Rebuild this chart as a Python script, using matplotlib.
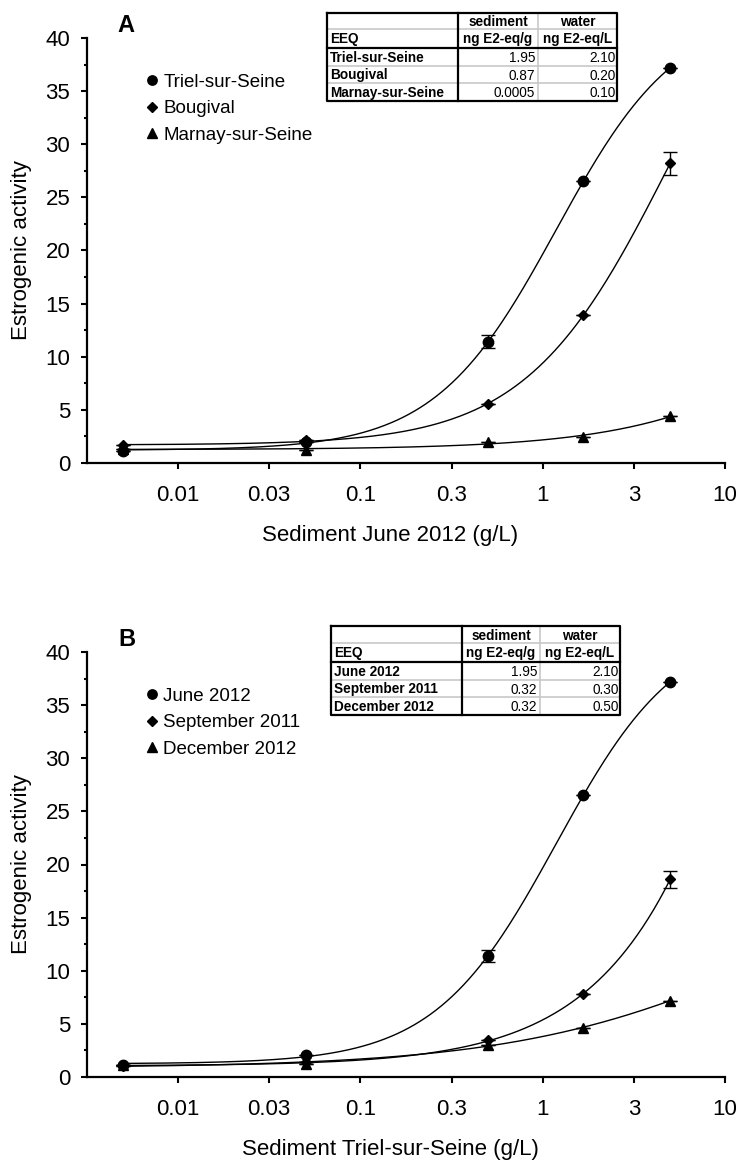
import numpy as np
import matplotlib
matplotlib.use("Agg")
import matplotlib.pyplot as plt
from matplotlib.lines import Line2D
from matplotlib.ticker import FixedLocator, NullLocator, MultipleLocator

plt.rcParams["font.family"] = ["Liberation Sans", "DejaVu Sans"]

# ---- data ----
conc = [0.005, 0.05, 0.5, 1.67, 5.0]

# panel A: sites, sediment June 2012
triel = [1.1, 2.0, 11.4, 26.5, 37.2]
triel_err = [0, 0, 0.6, 0, 0]
bougival = [1.65, 2.15, 5.55, 13.9, 28.2]
bougival_err = [0, 0, 0, 0, 1.1]
marnay = [1.3, 1.25, 2.0, 2.45, 4.4]
marnay_err = [0, 0, 0, 0, 0]

# panel B: Triel-sur-Seine, sampling dates
june = [1.15, 2.05, 11.4, 26.5, 37.2]
june_err = [0, 0, 0.6, 0, 0]
sept = [1.0, 1.4, 3.45, 7.8, 18.6]
sept_err = [0, 0, 0, 0, 0.8]
dec = [1.1, 1.25, 3.05, 4.6, 7.2]
dec_err = [0, 0, 0, 0, 0]

labels_a = ["Triel-sur-Seine", "Bougival", "Marnay-sur-Seine"]
labels_b = ["June 2012", "September 2011", "December 2012"]

# EEQ tables
table_a_rows = ["Triel-sur-Seine", "Bougival", "Marnay-sur-Seine"]
table_a_sed = ["1.95", "0.87", "0.0005"]
table_a_wat = ["2.10", "0.20", "0.10"]
table_b_rows = ["June 2012", "September 2011", "December 2012"]
table_b_sed = ["1.95", "0.32", "0.32"]
table_b_wat = ["2.10", "0.30", "0.50"]

xtick_vals = [0.01, 0.0316, 0.1, 0.316, 1, 3.16, 10]
xtick_labels = ["0.01", "0.03", "0.1", "0.3", "1", "3", "10"]

W, H = 739, 1165
fig = plt.figure(figsize=(W / 100, H / 100), dpi=100)


def fx(px):
    return px / W


def fy(py):
    return 1 - py / H


def hill_fit(x, y):
    # 4-parameter logistic in log10(x); bottom/top solved linearly for each (ec50, slope)
    lx = np.log10(np.asarray(x))
    y = np.asarray(y, dtype=float)
    best = (np.inf, None)
    for n in np.linspace(0.3, 4.0, 75):
        for le in np.linspace(-2.5, 2.0, 181):
            f = 1.0 / (1.0 + 10 ** ((le - lx) * n))
            A = np.column_stack([1 - f, f])
            coef = np.linalg.lstsq(A, y, rcond=None)[0]
            sse = np.sum((A @ coef - y) ** 2)
            if sse < best[0]:
                best = (sse, (coef[0], coef[1], le, n))
    return best[1]


def hill_curve(params, xs):
    b, t, le, n = params
    return b + (t - b) / (1.0 + 10 ** ((le - np.log10(xs)) * n))


markers = ["o", "D", "^"]
msizes = [7.5, 5.5, 7.5]


def draw_panel(ax, series, errs, labels, xlabel, xlabel_x):
    xs = np.logspace(np.log10(conc[0]), np.log10(conc[-1]), 300)
    handles = []
    for y, e, m, ms, lab in zip(series, errs, markers, msizes, labels):
        p = hill_fit(conc, y)
        ax.plot(xs, hill_curve(p, xs), color="black", lw=1.0, zorder=2)
        ax.errorbar(conc, y, yerr=e, fmt=m, ms=ms, color="black", ecolor="black",
                    elinewidth=1.0, capsize=5, capthick=1.0, zorder=3)
        handles.append(Line2D([], [], ls="none", marker=m, ms=ms * 0.9, color="black"))

    ax.set_xscale("log")
    ax.set_xlim(10 ** -2.5, 10)
    ax.set_ylim(0, 40)
    ax.xaxis.set_major_locator(FixedLocator(xtick_vals))
    ax.xaxis.set_minor_locator(NullLocator())
    ax.set_xticklabels(xtick_labels)
    ax.yaxis.set_major_locator(MultipleLocator(5))
    ax.yaxis.set_minor_locator(MultipleLocator(2.5))
    for s in ["top", "right"]:
        ax.spines[s].set_visible(False)
    for s in ["left", "bottom"]:
        ax.spines[s].set_linewidth(1.6)
    ax.tick_params(which="major", direction="out", length=4, width=1.5, labelsize=16, pad=8)
    ax.tick_params(which="minor", direction="out", length=2.5, width=1.5)
    ax.tick_params(axis="x", pad=12)
    ax.set_ylabel("Estrogenic activity", fontsize=16)
    ax.yaxis.set_label_coords(-0.086, 0.5)
    ax.set_xlabel(xlabel, fontsize=16)
    ax.xaxis.set_label_coords(xlabel_x, -0.146)
    return handles


def draw_table(cols, rows, names, sed, wat):
    x0, x1, x2, x3 = cols
    grey = "#c8c8c8"
    tr = fig.transFigure
    # grey inner lines
    fig.add_artist(Line2D([fx(x2), fx(x2)], [fy(rows[0]), fy(rows[-1])], color=grey, lw=1.2, transform=tr))
    for r in [rows[1], rows[3], rows[4]]:
        fig.add_artist(Line2D([fx(x0), fx(x3)], [fy(r), fy(r)], color=grey, lw=1.2, transform=tr))
    # black lines
    fig.add_artist(Line2D([fx(x1), fx(x1)], [fy(rows[0]), fy(rows[-1])], color="black", lw=1.6, transform=tr))
    fig.add_artist(Line2D([fx(x0), fx(x3)], [fy(rows[2]), fy(rows[2])], color="black", lw=1.6, transform=tr))
    fig.add_artist(Line2D([fx(x0), fx(x3), fx(x3), fx(x0), fx(x0)],
                          [fy(rows[0]), fy(rows[0]), fy(rows[-1]), fy(rows[-1]), fy(rows[0])],
                          color="black", lw=1.6, transform=tr))
    fs = 9.8

    def cy(i):
        return fy((rows[i] + rows[i + 1]) / 2 + 1)

    fig.text(fx((x1 + x2) / 2), cy(0), "sediment", ha="center", va="center", fontsize=fs, weight="bold")
    fig.text(fx((x2 + x3) / 2), cy(0), "water", ha="center", va="center", fontsize=fs, weight="bold")
    fig.text(fx(x0 + 3), cy(1), "EEQ", ha="left", va="center", fontsize=fs, weight="bold")
    fig.text(fx((x1 + x2) / 2), cy(1), "ng E2-eq/g", ha="center", va="center", fontsize=fs, weight="bold")
    fig.text(fx((x2 + x3) / 2), cy(1), "ng E2-eq/L", ha="center", va="center", fontsize=fs, weight="bold")
    for i, (nm, s, w) in enumerate(zip(names, sed, wat)):
        fig.text(fx(x0 + 3), cy(i + 2), nm, ha="left", va="center", fontsize=fs, weight="bold")
        fig.text(fx(x2 - 3), cy(i + 2), s, ha="right", va="center", fontsize=fs)
        fig.text(fx(x3 - 1.5), cy(i + 2), w, ha="right", va="center", fontsize=fs)


axA = fig.add_axes([fx(87), fy(463), 638 / W, 425 / H])
axB = fig.add_axes([fx(87), fy(1077), 638 / W, 425 / H])

hA = draw_panel(axA, [triel, bougival, marnay], [triel_err, bougival_err, marnay_err],
                labels_a, "Sediment June 2012 (g/L)", 0.475)
hB = draw_panel(axB, [june, sept, dec], [june_err, sept_err, dec_err],
                labels_b, "Sediment Triel-sur-Seine (g/L)", 0.475)

for ax, h, labs, yc in [(axA, hA, labels_a, 108.5), (axB, hB, labels_b, 722.5)]:
    ax.legend(h, labs, loc="center left", bbox_to_anchor=(fx(144.5), fy(yc)),
              bbox_transform=fig.transFigure, frameon=False, fontsize=13.5,
              handlelength=0.8, handletextpad=0.2, labelspacing=0.5,
              borderpad=0, borderaxespad=0)

fig.text(fx(117), fy(32), "A", fontsize=17, weight="bold", va="baseline", ha="left")
fig.text(fx(118), fy(646), "B", fontsize=17, weight="bold", va="baseline", ha="left")

draw_table([327, 458, 538, 617], [13, 29, 48, 66, 83, 101], table_a_rows, table_a_sed, table_a_wat)
draw_table([331, 462, 540, 620], [626, 643, 662, 680, 697, 715], table_b_rows, table_b_sed, table_b_wat)

fig.savefig("out.png", dpi=100)
